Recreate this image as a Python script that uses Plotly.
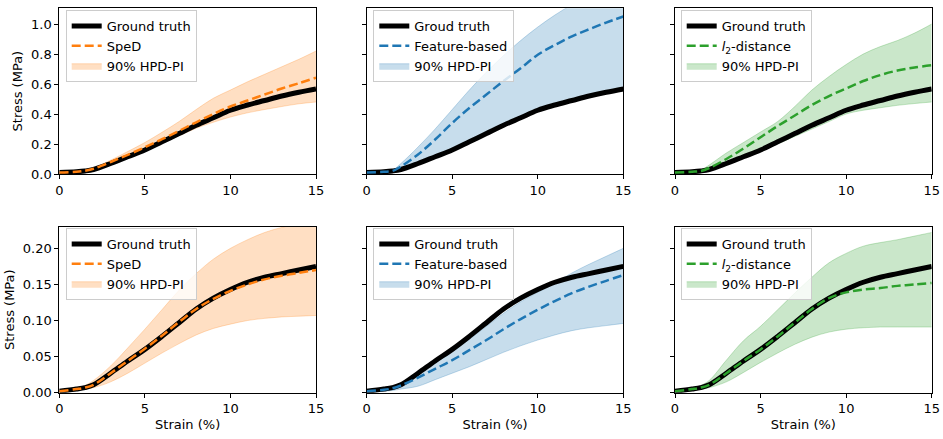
import plotly.graph_objects as go
from plotly.subplots import make_subplots

strain = [0, 1, 1.5, 2, 3, 4, 5, 6, 7, 8, 9, 10, 11, 12, 13, 14, 15]

# ---- top row (MPa) ----
gt_top = [0.010, 0.015, 0.020, 0.030, 0.070, 0.115, 0.160, 0.215, 0.270, 0.325, 0.375, 0.425, 0.460, 0.490, 0.520, 0.545, 0.567]
sped_top = [0.010, 0.015, 0.022, 0.035, 0.080, 0.128, 0.178, 0.232, 0.288, 0.345, 0.400, 0.450, 0.490, 0.530, 0.570, 0.605, 0.642]
sped_top_hi = [0.012, 0.018, 0.026, 0.042, 0.092, 0.150, 0.210, 0.278, 0.350, 0.430, 0.505, 0.560, 0.615, 0.665, 0.715, 0.765, 0.820]
sped_top_lo = [0.006, 0.010, 0.016, 0.025, 0.063, 0.108, 0.152, 0.205, 0.255, 0.305, 0.345, 0.380, 0.408, 0.430, 0.450, 0.468, 0.480]
feat_top = [0.010, 0.015, 0.020, 0.050, 0.130, 0.230, 0.340, 0.440, 0.530, 0.620, 0.705, 0.795, 0.860, 0.918, 0.965, 1.010, 1.050]
feat_top_hi = [0.012, 0.018, 0.026, 0.070, 0.180, 0.300, 0.430, 0.560, 0.680, 0.790, 0.890, 0.980, 1.060, 1.130, 1.190, 1.240, 1.280]
feat_top_lo = [0.010, 0.015, 0.021, 0.032, 0.073, 0.118, 0.164, 0.219, 0.274, 0.330, 0.380, 0.430, 0.465, 0.495, 0.525, 0.550, 0.572]
l2_top = [0.010, 0.015, 0.020, 0.040, 0.100, 0.170, 0.245, 0.320, 0.390, 0.460, 0.520, 0.570, 0.620, 0.660, 0.690, 0.710, 0.725]
l2_top_hi = [0.012, 0.018, 0.026, 0.060, 0.140, 0.210, 0.280, 0.350, 0.450, 0.560, 0.650, 0.730, 0.800, 0.850, 0.890, 0.940, 1.000]
l2_top_lo = [0.006, 0.010, 0.016, 0.025, 0.060, 0.108, 0.150, 0.200, 0.250, 0.300, 0.350, 0.400, 0.425, 0.442, 0.458, 0.470, 0.480]

# ---- bottom row (MPa) ----
gt_bot = [0.002, 0.005, 0.007, 0.011, 0.027, 0.044, 0.060, 0.078, 0.097, 0.116, 0.131, 0.143, 0.153, 0.160, 0.165, 0.170, 0.175]
sped_bot = [0.002, 0.005, 0.007, 0.011, 0.027, 0.044, 0.061, 0.079, 0.098, 0.116, 0.130, 0.141, 0.150, 0.157, 0.162, 0.166, 0.170]
sped_bot_hi = [0.002, 0.006, 0.010, 0.017, 0.037, 0.062, 0.088, 0.115, 0.142, 0.165, 0.185, 0.200, 0.212, 0.222, 0.229, 0.234, 0.237]
sped_bot_lo = [0.001, 0.003, 0.005, 0.007, 0.015, 0.027, 0.041, 0.055, 0.068, 0.080, 0.089, 0.095, 0.100, 0.103, 0.105, 0.106, 0.107]
feat_bot = [0.002, 0.004, 0.006, 0.010, 0.021, 0.033, 0.045, 0.059, 0.073, 0.088, 0.102, 0.115, 0.127, 0.138, 0.147, 0.155, 0.163]
feat_bot_hi = [0.002, 0.005, 0.008, 0.012, 0.026, 0.041, 0.057, 0.074, 0.092, 0.110, 0.126, 0.139, 0.152, 0.166, 0.178, 0.189, 0.200]
feat_bot_lo = [0.001, 0.002, 0.003, 0.005, 0.009, 0.018, 0.027, 0.036, 0.046, 0.056, 0.065, 0.073, 0.080, 0.086, 0.090, 0.093, 0.096]
l2_bot = [0.002, 0.005, 0.007, 0.011, 0.027, 0.044, 0.060, 0.078, 0.097, 0.116, 0.131, 0.139, 0.143, 0.145, 0.148, 0.150, 0.152]
l2_bot_hi = [0.002, 0.006, 0.010, 0.017, 0.045, 0.072, 0.092, 0.115, 0.138, 0.160, 0.180, 0.193, 0.203, 0.208, 0.212, 0.217, 0.222]
l2_bot_lo = [0.001, 0.003, 0.005, 0.007, 0.015, 0.028, 0.042, 0.055, 0.067, 0.077, 0.084, 0.088, 0.090, 0.091, 0.091, 0.091, 0.091]

x_ticks = [0, 5, 10, 15]
top_yticks = [0.0, 0.2, 0.4, 0.6, 0.8, 1.0]
bot_yticks = [0.00, 0.05, 0.10, 0.15, 0.20]

ORANGE = "#ff7f0e"
BLUE = "#1f77b4"
GREEN = "#2ca02c"

def rgba(hexc, a):
    h = hexc.lstrip("#")
    return "rgba(%d,%d,%d,%g)" % (int(h[0:2], 16), int(h[2:4], 16), int(h[4:6], 16), a)

panels = [
    (1, 1, gt_top, sped_top, sped_top_hi, sped_top_lo, ORANGE, "Ground truth", "SpeD"),
    (1, 2, gt_top, feat_top, feat_top_hi, feat_top_lo, BLUE, "Groud truth", "Feature-based"),
    (1, 3, gt_top, l2_top, l2_top_hi, l2_top_lo, GREEN, "Ground truth", "<i>l</i><sub>2</sub>-distance"),
    (2, 1, gt_bot, sped_bot, sped_bot_hi, sped_bot_lo, ORANGE, "Ground truth", "SpeD"),
    (2, 2, gt_bot, feat_bot, feat_bot_hi, feat_bot_lo, BLUE, "Ground truth", "Feature-based"),
    (2, 3, gt_bot, l2_bot, l2_bot_hi, l2_bot_lo, GREEN, "Ground truth", "<i>l</i><sub>2</sub>-distance"),
]

W, H = 943, 439
fig = make_subplots(rows=2, cols=3)

xdom = [(59.3 / W, 316.0 / W), (366.7 / W, 623.3 / W), (675.0 / W, 931.7 / W)]
ydom = [(1 - 174.0 / H, 1 - 8.3 / H), (1 - 392.7 / H, 1 - 226.7 / H)]
legx = [65.7 / W, 373.3 / W, 680.7 / W]
legy = [1 - 10.0 / H, 1 - 228.0 / H]

FONT = "DejaVu Sans"
TF = dict(family=FONT, size=13, color="black")

for i, (r, c, gt, pred, hi, lo, col, gtname, pname) in enumerate(panels):
    lg = "legend" if i == 0 else "legend%d" % (i + 1)
    fig.add_trace(go.Scatter(x=strain, y=lo, mode="lines", line=dict(color=rgba(col, 0.25), width=1, shape="spline"),
                             showlegend=False, hoverinfo="skip", legend=lg), row=r, col=c)
    fig.add_trace(go.Scatter(x=strain, y=hi, mode="lines", fill="tonexty", fillcolor=rgba(col, 0.25),
                             line=dict(color=rgba(col, 0.25), width=1, shape="spline"),
                             name="90% HPD-PI", legend=lg, legendrank=3), row=r, col=c)
    fig.add_trace(go.Scatter(x=strain, y=gt, mode="lines", line=dict(color="black", width=5, shape="spline"),
                             name=gtname, legend=lg, legendrank=1), row=r, col=c)
    fig.add_trace(go.Scatter(x=strain, y=pred, mode="lines", line=dict(color=col, width=2.5, dash="9px,4px", shape="spline"),
                             name=pname, legend=lg, legendrank=2), row=r, col=c)
    fig.update_layout({lg: dict(x=legx[c - 1], y=legy[r - 1], xanchor="left", yanchor="top",
                                traceorder="normal",
                                bgcolor="rgba(255,255,255,0.8)", bordercolor="#cccccc", borderwidth=1,
                                font=TF, tracegroupgap=0, itemwidth=30)})

    xa = dict(domain=xdom[c - 1], range=[0, 15], tickvals=x_ticks, automargin=False,
              showline=True, mirror=True, linecolor="black", linewidth=1,
              ticks="outside", ticklen=4, tickcolor="black", showgrid=False, zeroline=False,
              tickfont=TF)
    if r == 2:
        xa["title"] = dict(text="Strain (%)", font=TF, standoff=4)
    fig.update_xaxes(row=r, col=c, **xa)
    if r == 1:
        yr, yt, yf = [0, 1.105], top_yticks, ".1f"
    else:
        yr, yt, yf = [0, 0.23], bot_yticks, ".2f"
    ya = dict(domain=ydom[r - 1], range=yr, tickvals=yt, tickformat=yf, automargin=False,
              showticklabels=(c == 1),
              showline=True, mirror=True, linecolor="black", linewidth=1,
              ticks="outside", ticklen=4, tickcolor="black", showgrid=False, zeroline=False,
              tickfont=TF)
    if c == 1:
        ya["title"] = dict(text="Stress (MPa)", font=TF, standoff=5)
    fig.update_yaxes(row=r, col=c, **ya)

fig.update_layout(width=W, height=H, margin=dict(l=0, r=0, t=0, b=0),
                  paper_bgcolor="white", plot_bgcolor="white",
                  font=TF)

fig.write_html("out.html", config={"displayModeBar": False},
               post_script="document.body.style.margin='0px';")
